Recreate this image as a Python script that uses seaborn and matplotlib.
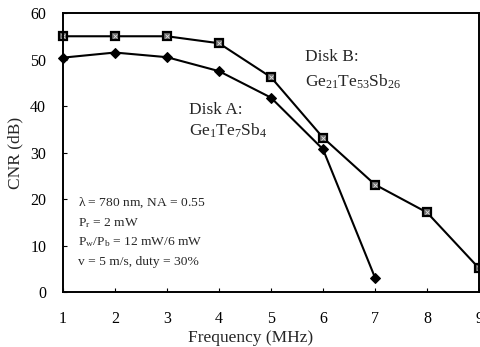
import matplotlib
matplotlib.use("Agg")
import matplotlib.pyplot as plt
import seaborn as sns
import pandas as pd

freq = [1, 2, 3, 4, 5, 6, 7, 8, 9]
disk_a_freq = [1, 2, 3, 4, 5, 6, 7]
disk_a_cnr = [50.4, 51.5, 50.5, 47.5, 41.8, 30.7, 3.1]
disk_b_cnr = [55.0, 55.0, 55.0, 53.5, 46.2, 33.2, 23.1, 17.1, 5.1]
x_ticks = [1, 2, 3, 4, 5, 6, 7, 8, 9]
y_ticks = [0, 10, 20, 30, 40, 50, 60]

sns.set_theme(style="ticks")
plt.rcParams["font.family"] = ["Liberation Serif", "DejaVu Serif"]
plt.rcParams["mathtext.fontset"] = "custom"
plt.rcParams["mathtext.rm"] = "Liberation Serif"
plt.rcParams["mathtext.it"] = "Liberation Serif"

df_a = pd.DataFrame({"f": disk_a_freq, "cnr": disk_a_cnr})
df_b = pd.DataFrame({"f": freq, "cnr": disk_b_cnr})

fig = plt.figure(figsize=(4.8, 3.47), dpi=100)
ax = fig.add_axes([0.131, 0.1585, 0.867, 0.804])

sns.lineplot(data=df_b, x="f", y="cnr", ax=ax, color="black", lw=1.5,
             marker="s", markersize=6, markerfacecolor="#6e6e6e",
             markeredgecolor="black", markeredgewidth=1.6, clip_on=False)
ax.plot(df_b["f"], df_b["cnr"], ls="none", marker="x", markersize=3,
        color="#e0e0e0", markeredgewidth=0.6, clip_on=False)
sns.lineplot(data=df_a, x="f", y="cnr", ax=ax, color="black", lw=1.5,
             marker="D", markersize=5.5, markerfacecolor="black",
             markeredgecolor="black", clip_on=False)

ax.set_xlim(1, 9)
ax.set_ylim(0, 60)
ax.set_xticks(x_ticks)
ax.set_yticks(y_ticks)
ax.tick_params(direction="in", length=3, width=0.8, colors="black",
               labelsize=11.5)
ax.tick_params(axis="x", pad=13.5)
ax.tick_params(axis="y", pad=12)
for s in ax.spines.values():
    s.set_visible(True)
    s.set_linewidth(1.4)
    s.set_color("black")

ax.set_xlabel("Frequency (MHz)", fontsize=12.5)
ax.xaxis.set_label_coords(0.45, -0.135)
ax.set_ylabel("CNR (dB)", fontsize=12.5)
ax.yaxis.set_label_coords(-0.095, 0.5)

ax.text(3.42, 39.2, "Disk A:", fontsize=12.5, va="center")
ax.text(3.42, 34.6, r"Ge$_1$Te$_7$Sb$_4$", fontsize=12.5, va="center")
ax.text(5.65, 50.6, "Disk B:", fontsize=12.5, va="center")
ax.text(5.65, 45.3, r"Ge$_{21}$Te$_{53}$Sb$_{26}$", fontsize=12.5, va="center")

info = [r"$\lambda$ = 780 nm, NA = 0.55",
        r"P$_\mathrm{r}$ = 2 mW",
        r"P$_\mathrm{w}$/P$_\mathrm{b}$ = 12 mW/6 mW",
        "v = 5 m/s, duty = 30%"]
for i, line in enumerate(info):
    ax.text(1.29, 19.1 - i * 4.2, line, fontsize=9.7, va="center")

fig.savefig("out.png", dpi=100)
